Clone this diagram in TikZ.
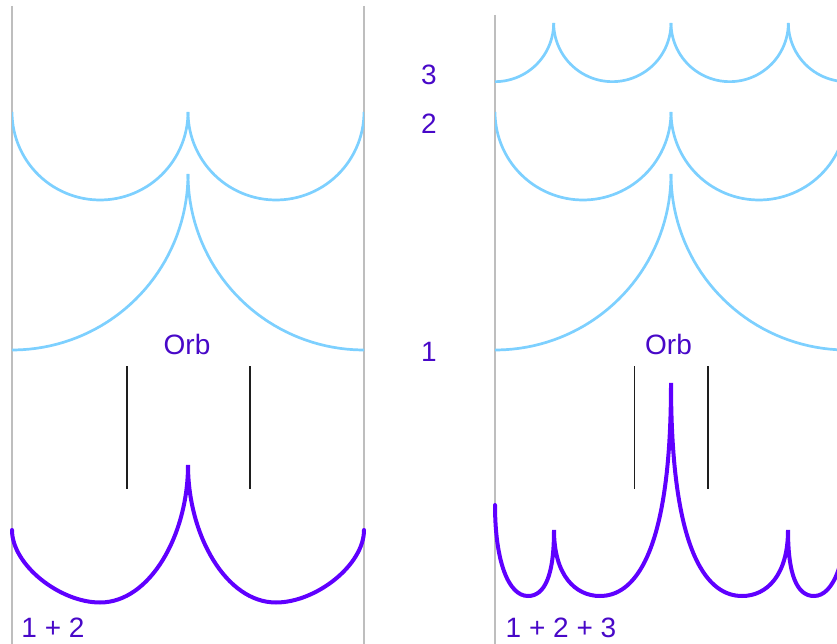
\documentclass[tikz,border=0pt]{standalone}
\usepackage{fontspec}
\setmainfont{Liberation Sans}
\usepackage{tikz}
\usetikzlibrary{calc}
\definecolor{orbBlue}   {RGB}{125, 208, 255}
\definecolor{orbPurple} {RGB}{95,  0,   255}
\definecolor{labelPurple}{RGB}{72, 8,   200}
\definecolor{railGray}  {RGB}{190, 190, 190}
\definecolor{markBlack} {RGB}{30,  30,  30}

\tikzset{
  lbl/.style={font=\fontsize{28}{32}\selectfont,labelPurple,inner sep=0pt},
  wave/.style={orbBlue,line width=2.7pt},
  sumwave/.style={orbPurple,line width=4pt,line cap=round},
  rail/.style={railGray,line width=1.5pt},
  orbmark/.style={markBlack,line width=1.6pt}
}

\begin{document}
\begin{tikzpicture}[x=1pt,y=-1pt]

    \useasboundingbox (0,0) rectangle (837,644);
    \clip (0,0) rectangle (837,644);

    % ── LEFT PANEL (1 + 2) ─────────────────────────────────
    \draw[rail] (12,6)--(12,644);
    \draw[rail] (364,6)--(364,644);
    \begin{scope}
      \clip (12,0) rectangle (364,644);
      \foreach \c in {12,364}{
        \draw[wave] plot[domain=0:180,samples=80] ({\c+176*cos(\x)},{174+176*sin(\x)});
      }
      \foreach \c in {100,276}{
        \draw[wave] plot[domain=0:180,samples=60] ({\c+88*cos(\x)},{112+88*sin(\x)});
      }
    \end{scope}
    \node[lbl] (orbL) at (187,344){Orb};
    \draw[orbmark] (127,366)--(127,489);
    \draw[orbmark] (250,366)--(250,489);
    \draw[sumwave] (12,530) .. controls (12,565) and (60,602.5) .. (100,602.5)
      .. controls (150,602.5) and (188,535) .. (188,465)
      .. controls (188,535) and (226,602.5) .. (276,602.5)
      .. controls (316,602.5) and (364,565) .. (364,530);
    \node[lbl] (sumL) at (53,628){1 + 2};

    % ── HARMONIC NUMBERS ───────────────────────────────────
    \node[lbl] (hThree) at (429,75){3};
    \node[lbl] (hTwo)   at (429,124){2};
    \node[lbl] (hOne)   at (429,352){1};

    % ── RIGHT PANEL (1 + 2 + 3) ────────────────────────────
    \draw[rail] (495,15)--(495,644);
    \begin{scope}
      \clip (495,0) rectangle (837,644);
      \foreach \c in {495,847}{
        \draw[wave] plot[domain=0:180,samples=80] ({\c+176*cos(\x)},{174+176*sin(\x)});
      }
      \foreach \c in {583,759}{
        \draw[wave] plot[domain=0:180,samples=60] ({\c+88*cos(\x)},{112+88*sin(\x)});
      }
      \foreach \c in {495,612.33,729.67,847}{
        \draw[wave] plot[domain=0:180,samples=50] ({\c+58.67*cos(\x)},{23+58.67*sin(\x)});
      }
    \end{scope}
    \node[lbl] (orbR) at (668.5,344){Orb};
    \draw[orbmark] (634.5,366)--(634.5,489);
    \draw[orbmark] (708,366)--(708,489);
    \draw[sumwave] (495,505) .. controls (495,560) and (508,596) .. (528,596)
      .. controls (545,596) and (554,575) .. (554,530)
      .. controls (554,575) and (575,596) .. (600,596)
      .. controls (632,596) and (671,560) .. (671,383)
      .. controls (671,560) and (710,596) .. (742,596)
      .. controls (767,596) and (788,575) .. (788,530)
      .. controls (788,575) and (797,596) .. (814,596)
      .. controls (834,596) and (847,560) .. (847,505);
    \node[lbl] (sumR) at (561,628){1 + 2 + 3};

  \end{tikzpicture}
\end{document}
